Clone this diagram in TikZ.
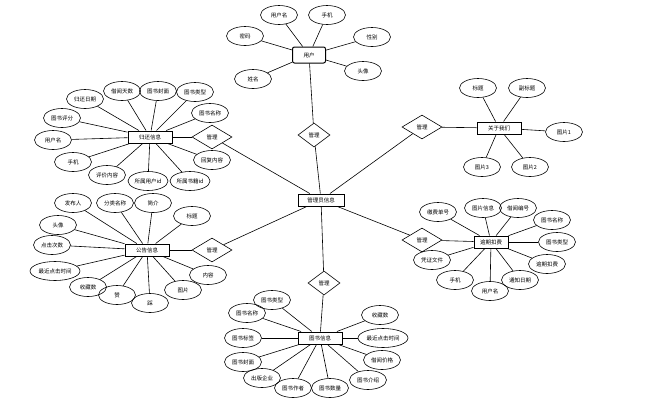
\documentclass[tikz,border=0pt]{standalone}
\usepackage{fontspec}
\setmainfont{Noto Sans CJK SC}
\usepackage{tikz}
\usetikzlibrary{shapes.geometric}

\tikzset{
  attr/.style={draw, ellipse, line width=0.6pt, minimum width=37pt, minimum height=19pt, inner sep=0pt, font=\fontsize{5.5}{6}\selectfont},
  wideattr/.style={attr, minimum width=50pt},
  entity/.style={draw, rectangle, line width=1pt, minimum width=44pt, minimum height=12pt, inner sep=1pt, font=\fontsize{5.5}{6}\selectfont},
  rel/.style={draw, diamond, aspect=1.7, line width=0.6pt, minimum width=40pt, minimum height=24pt, inner sep=0pt, font=\fontsize{5.5}{6}\selectfont},
  link/.style={line width=0.6pt}
}

\begin{document}
\begin{tikzpicture}[x=1pt, y=-1pt]
      \useasboundingbox[fill=white] (0,0) rectangle (645,407);

      % centre
      \node[entity, minimum width=46pt] (admin) at (321,200) {管理员信息};

      % user
      \node[entity, rounded corners=2pt, minimum width=33pt, minimum height=16pt] (user) at (309,55) {用户};
      \node[attr] (uName) at (279,15) {用户名};
      \node[attr] (uPhone) at (327,15) {手机};
      \node[attr] (uSex) at (372,37) {性别};
      \node[attr] (uAvatar) at (363,71) {头像};
      \node[attr] (uReal) at (253,79) {姓名};
      \node[attr] (uPwd) at (245,36) {密码};
      \node[rel, minimum width=32pt, minimum height=24pt, aspect=1.2] (rUser) at (314,135) {管理};
      \foreach \a in {uName,uPhone,uSex,uAvatar,uReal,uPwd}
        \draw[link] (user) -- (\a);
      \draw[link] (user) -- (rUser);
      \draw[link] (rUser) -- (admin);

      % return info
      \node[entity] (back) at (150,137) {归还信息};
      \node[attr] (bDate) at (85,99) {归还日期};
      \node[attr] (bDays) at (122,91) {借阅天数};
      \node[attr] (bCover) at (158,91) {图书封面};
      \node[attr] (bType) at (195,92) {图书类型};
      \node[attr] (bTitle) at (210,113) {图书名称};
      \node[attr] (bScore) at (62,118) {图书评分};
      \node[attr] (bUser) at (53,140) {用户名};
      \node[attr] (bPhone) at (73,162) {手机};
      \node[attr] (bText) at (107,175) {评价内容};
      \node[attr, minimum width=40pt] (bUid) at (148,181) {所属用户id};
      \node[attr, minimum width=40pt] (bBid) at (190,181) {所属书籍id};
      \node[attr] (bReply) at (212,160) {回复内容};
      \node[rel] (rBack) at (212,137) {管理};
      \foreach \a in {bDate,bDays,bCover,bType,bTitle,bScore,bUser,bPhone,bText,bUid,bBid,bReply}
        \draw[link] (back) -- (\a);
      \draw[link] (back) -- (rBack);
      \draw[link] (rBack) -- (admin);

      % notice
      \node[entity] (notice) at (147,250) {公告信息};
      \node[attr] (nAuthor) at (73,203) {发布人};
      \node[attr] (nKind) at (115,203) {分类名称};
      \node[attr] (nBrief) at (153,203) {简介};
      \node[attr] (nTitle) at (192,216) {标题};
      \node[attr] (nAvatar) at (58,225) {头像};
      \node[attr] (nClicks) at (52,245) {点击次数};
      \node[wideattr] (nTime) at (55,271) {最近点击时间};
      \node[attr] (nFav) at (88,287) {收藏数};
      \node[attr] (nUp) at (117,295) {赞};
      \node[attr] (nDown) at (150,303) {踩};
      \node[attr] (nPic) at (183,290) {图片};
      \node[attr] (nBody) at (208,275) {内容};
      \node[rel] (rNotice) at (212,250) {管理};
      \foreach \a in {nAuthor,nKind,nBrief,nTitle,nAvatar,nClicks,nTime,nFav,nUp,nDown,nPic,nBody}
        \draw[link] (notice) -- (\a);
      \draw[link] (notice) -- (rNotice);
      \draw[link] (rNotice) -- (admin);

      % about us
      \node[entity] (about) at (499,128) {关于我们};
      \node[attr] (aTitle) at (478,88) {标题};
      \node[attr] (aSub) at (527,88) {副标题};
      \node[attr] (aPic1) at (564,132) {图片1};
      \node[attr] (aPic3) at (482,167) {图片3};
      \node[attr] (aPic2) at (530,167) {图片2};
      \node[rel] (rAbout) at (422,127) {管理};
      \foreach \a in {aTitle,aSub,aPic1,aPic3,aPic2}
        \draw[link] (about) -- (\a);
      \draw[link] (about) -- (rAbout);
      \draw[link] (rAbout) -- (admin);

      % overdue fee
      \node[entity, minimum width=34pt] (fee) at (491,242) {逾期扣费};
      \node[attr] (fNo) at (438,212) {缴费单号};
      \node[attr] (fPic) at (483,208) {图片信息};
      \node[attr] (fLend) at (518,208) {借阅编号};
      \node[attr] (fTitle) at (552,220) {图书名称};
      \node[attr] (fType) at (557,242) {图书类型};
      \node[attr] (fFee) at (547,264) {逾期扣费};
      \node[attr] (fDate) at (520,280) {通知日期};
      \node[attr] (fUser) at (490,291) {用户名};
      \node[attr] (fPhone) at (455,280) {手机};
      \node[attr] (fFile) at (432,260) {凭证文件};
      \node[rel] (rFee) at (422,240) {管理};
      \foreach \a in {fNo,fPic,fLend,fTitle,fType,fFee,fDate,fUser,fPhone,fFile}
        \draw[link] (fee) -- (\a);
      \draw[link] (fee) -- (rFee);
      \draw[link] (rFee) -- (admin);

      % book
      \node[entity] (book) at (320,338) {图书信息};
      \node[attr] (kType) at (272,300) {图书类型};
      \node[attr] (kTitle) at (247,313) {图书名称};
      \node[attr] (kTag) at (243,338) {图书标签};
      \node[attr] (kCover) at (243,362) {图书封面};
      \node[attr] (kPress) at (262,378) {出版企业};
      \node[attr] (kAuthor) at (293,388) {图书作者};
      \node[attr] (kCount) at (330,388) {图书数量};
      \node[attr] (kIntro) at (368,380) {图书介绍};
      \node[attr] (kPrice) at (382,360) {借阅价格};
      \node[wideattr] (kTime) at (383,338) {最近点击时间};
      \node[attr] (kFav) at (380,315) {收藏数};
      \node[rel, minimum width=32pt, minimum height=24pt, aspect=1.2] (rBook) at (324,283) {管理};
      \foreach \a in {kType,kTitle,kTag,kCover,kPress,kAuthor,kCount,kIntro,kPrice,kTime,kFav}
        \draw[link] (book) -- (\a);
      \draw[link] (book) -- (rBook);
      \draw[link] (rBook) -- (admin);
    \end{tikzpicture}
\end{document}
